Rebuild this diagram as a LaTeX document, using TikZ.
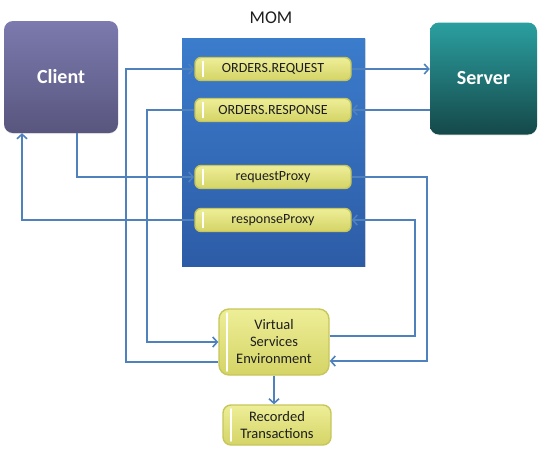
\documentclass[tikz,border=0pt]{standalone}
\usepackage{fontspec}
\setmainfont{Carlito}
\usetikzlibrary{arrows.meta,calc,shadows}
\definecolor{conn}{HTML}{4F81BD}
\definecolor{pillA}{HTML}{EEEE98}
\definecolor{pillB}{HTML}{D4D466}
\definecolor{pillD}{HTML}{C6C65C}
\definecolor{txt}{HTML}{1E1E1E}
\tikzset{
  conn/.style={draw=conn,line width=2pt},
  arr/.style={conn,-{Straight Barb[length=4.5pt,width=10pt,line width=1.6pt]}},
  bigbox/.style={rounded corners=9pt,minimum width=114pt,minimum height=112pt,text=white,
    font=\fontsize{20}{22}\selectfont\bfseries,inner sep=0pt},
  pill/.style={rounded corners=6pt,minimum width=156pt,minimum height=23pt,inner sep=0pt,
    top color=pillA,bottom color=pillB,draw=pillD,line width=1.4pt,text=txt,
    font=\fontsize{14}{16}\selectfont,
    path picture={\draw[white,line width=1.8pt,line cap=round]
      ([xshift=8pt,yshift=-4pt]path picture bounding box.north west) --
      ([xshift=8pt,yshift=4pt]path picture bounding box.south west);}},
  envbox/.style={pill,rounded corners=10pt,align=center,
    font=\fontsize{14.5}{17}\selectfont}
}
\begin{document}
\begin{tikzpicture}[x=1pt,y=-1pt]
\useasboundingbox (0,0) rectangle (541,448);
% MOM container
\node[font=\fontsize{18}{20}\selectfont,text=txt] (momlabel) at (271,18) {MOM};
\node[draw=none,top color={rgb,255:red,59;green,124;blue,204},bottom color={rgb,255:red,45;green,92;blue,166},
  minimum width=183pt,minimum height=228pt,inner sep=0pt,drop shadow={opacity=0.25,shadow xshift=1pt,shadow yshift=-1pt}] (mom) at (273.5,152) {};
% Client / Server
\node[bigbox,top color={rgb,255:red,124;green,122;blue,174},bottom color={rgb,255:red,88;green,86;blue,126},
  drop shadow={opacity=0.15,shadow xshift=0pt,shadow yshift=-1pt}] (client) at (61,77) {Client};
\node[bigbox,minimum width=107pt,top color={rgb,255:red,43;green,159;blue,160},bottom color={rgb,255:red,21;green,72;blue,73},
  drop shadow={opacity=0.15,shadow xshift=0pt,shadow yshift=-1pt}] (server) at (483.5,78.5) {Server};
% pills
\node[pill] (req) at (273,69) {ORDERS.REQUEST};
\node[pill] (resp) at (273,110) {ORDERS.RESPONSE};
\node[pill] (rp) at (273,177) {requestProxy};
\node[pill] (sp) at (273,220) {responseProxy};
% environment
\node[envbox,minimum width=110pt,minimum height=66pt] (vse) at (274,342) {Virtual\\Services\\Environment};
\node[envbox,minimum width=108pt,minimum height=40pt,rounded corners=8pt] (rec) at (277,425) {Recorded\\Transactions};
% connectors
\draw[arr] ([yshift=-20pt]vse.west) -| ($(req.west)+(-68,0)$) -- (req.west);
\draw[arr] (resp.west) -- ++(-47,0) |- (vse.west);
\draw[arr] ([xshift=16pt]client.south) |- (rp.west);
\draw[arr] (sp.west) -| ([xshift=-39pt]client.south);
\draw[arr] (req.east) -- (server.west |- req.east);
\draw[arr] (server.west |- resp.east) -- (resp.east);
\draw[arr] (rp.east) -- ++(75,0) |- ([yshift=-19pt]vse.east);
\draw[arr] ([yshift=6pt]vse.east) -- ++(85,0) |- (sp.east);
\draw[arr] (vse.south) -- (vse.south |- rec.north);
\end{tikzpicture}
\end{document}
